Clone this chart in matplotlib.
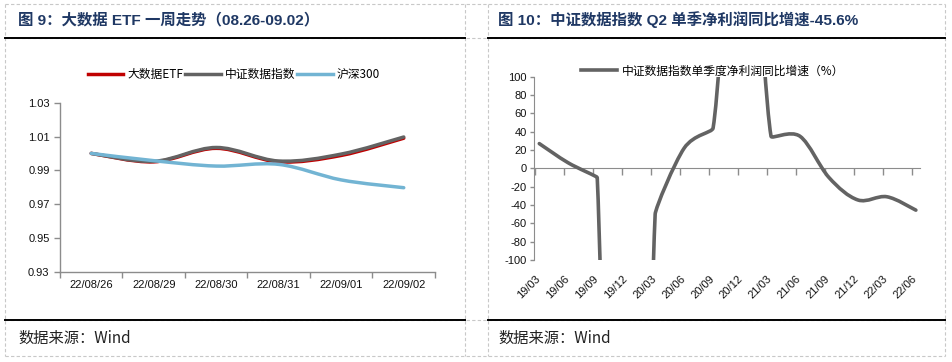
import matplotlib
matplotlib.use("Agg")
import matplotlib.pyplot as plt
import numpy as np
from matplotlib.path import Path
from matplotlib.patches import PathPatch
from matplotlib.lines import Line2D

# ---------------- data ----------------
days = ["22/08/26", "22/08/29", "22/08/30", "22/08/31", "22/09/01", "22/09/02"]
etf = [1.000, 0.995, 1.003, 0.995, 0.9988, 1.009]
index_ = [1.000, 0.9953, 1.0035, 0.9955, 0.9996, 1.0097]
hs300 = [1.000, 0.9957, 0.9925, 0.9935, 0.9843, 0.9797]
left_names = ["大数据ETF", "中证数据指数", "沪深300"]
left_yticks = [0.93, 0.95, 0.97, 0.99, 1.01, 1.03]

quarters = ["19/03", "19/06", "19/09", "19/12", "20/03", "20/06", "20/09",
            "20/12", "21/03", "21/06", "21/09", "21/12", "22/03", "22/06"]
growth = [27, 6, -10, -1400, -50, 22, 44, 420, 35, 35, -10, -34.5, -31, -45.6]
right_name = "中证数据指数单季度净利润同比增速（%）"
right_yticks = [-100, -80, -60, -40, -20, 0, 20, 40, 60, 80, 100]

title_l = "图 9：大数据 ETF 一周走势（08.26-09.02）"
title_r = "图 10：中证数据指数 Q2 单季净利润同比增速-45.6%"
source = "数据来源：Wind"

# ---------------- style ----------------
RED = "#c00000"
GRAY = "#636363"
BLUE = "#72b4d3"
AX = "#8c8c8c"
NAVY = "#1f3864"
LAT = ["Liberation Sans", "Noto Sans CJK SC"]
CJK = ["Noto Sans CJK SC", "Liberation Sans"]

W, H = 953, 362
fig = plt.figure(figsize=(W / 100, H / 100), dpi=100)


def fx(px):
    return px / W


def fy(py):
    return 1 - py / H


def ctrl_len(chord, seg):
    """Control-arm length: chord/6, damped when it exceeds half the segment."""
    a, h = chord / 6.0, seg / 2.0
    return a if a <= h else h * h / a


def smooth_patch(ax, xs, ys, color, lw, z):
    """Excel-like smoothed line: cubic Bezier built in display space."""
    data = np.column_stack([xs, ys]).astype(float)
    P = ax.transData.transform(data)
    n = len(P)
    verts = [P[0]]
    codes = [Path.MOVETO]
    for i in range(n - 1):
        p0 = P[i - 1] if i > 0 else P[i]
        p1, p2 = P[i], P[i + 1]
        p3 = P[i + 2] if i + 2 < n else P[i + 1]
        d12 = np.linalg.norm(p2 - p1)
        v02 = p2 - p0
        v13 = p3 - p1
        d02 = np.linalg.norm(v02) + 1e-9
        d13 = np.linalg.norm(v13) + 1e-9
        c1 = p1 + v02 / d02 * ctrl_len(d02, d12)
        c2 = p2 - v13 / d13 * ctrl_len(d13, d12)
        verts += [c1, c2, p2]
        codes += [Path.CURVE4] * 3
    verts = ax.transData.inverted().transform(np.array(verts))
    patch = PathPatch(Path(verts, codes), facecolor="none", edgecolor=color,
                      lw=lw, zorder=z, capstyle="round", joinstyle="round")
    ax.add_patch(patch)


# ---------------- frames ----------------
dash = dict(color="#c8c8c8", lw=0.8, ls=(0, (3, 2)), transform=fig.transFigure)
for y in (4, 38, 320, 356):
    fig.add_artist(Line2D([fx(5), fx(945)], [fy(y), fy(y)], **dash))
for x in (5, 465, 488, 945):
    fig.add_artist(Line2D([fx(x), fx(x)], [fy(4), fy(356)], **dash))
for (a, b) in ((5, 465), (488, 945)):
    for y in (38, 320):
        fig.add_artist(Line2D([fx(a), fx(b)], [fy(y), fy(y)], color="black",
                              lw=1.4, transform=fig.transFigure))

fig.text(fx(18), fy(20), title_l, fontsize=11.1, fontweight="bold", color=NAVY,
         family=LAT, va="center", ha="left")
fig.text(fx(498), fy(20), title_r, fontsize=11.1, fontweight="bold", color=NAVY,
         family=LAT, va="center", ha="left")
fig.text(fx(18), fy(338), source, fontsize=11, color="#222222", family=CJK,
         va="center", ha="left")
fig.text(fx(498), fy(338), source, fontsize=11, color="#222222", family=CJK,
         va="center", ha="left")

# ---------------- left chart ----------------
axl = fig.add_axes([fx(60), fy(271.7), fx(375), (271.7 - 102.7) / H])
xs = np.arange(len(days))
axl.set_xlim(-0.5, len(days) - 0.5)
axl.set_ylim(left_yticks[0], left_yticks[-1])
smooth_patch(axl, xs, etf, RED, 2.5, 3)
smooth_patch(axl, xs, index_, GRAY, 2.5, 4)
smooth_patch(axl, xs, hs300, BLUE, 2.5, 5)
axl.set_yticks(left_yticks)
axl.set_yticklabels([f"{v:.2f}" for v in left_yticks])
axl.set_xticks(np.arange(len(days) + 1) - 0.5)
axl.set_xticklabels([])
axl.set_xticks(xs, minor=True)
axl.set_xticklabels(days, minor=True)
for s in ("top", "right"):
    axl.spines[s].set_visible(False)
for s in ("left", "bottom"):
    axl.spines[s].set_color(AX)
    axl.spines[s].set_linewidth(1.0)
axl.tick_params(axis="both", which="major", color=AX, length=4, width=1.0,
                labelsize=8, labelcolor="#111111")
axl.tick_params(axis="x", which="minor", length=0, pad=6, labelsize=8,
                labelcolor="#111111")
for t in axl.get_xticklabels(minor=True) + axl.get_yticklabels():
    t.set_family(LAT)
handles = [Line2D([], [], color=c, lw=2.5) for c in (RED, GRAY, BLUE)]
axl.legend(handles, left_names, loc="center", bbox_to_anchor=(0.464, 1.164),
           ncol=3, frameon=False, handlelength=3.0, handletextpad=0.35,
           columnspacing=0.15, prop={"family": CJK, "size": 8.5})

# ---------------- right chart ----------------
axr = fig.add_axes([fx(533.5), fy(260), fx(387), (260 - 76.7) / H])
qx = np.arange(len(quarters))
axr.set_xlim(-0.06, len(quarters) - 1 + 0.3)
axr.set_ylim(right_yticks[0], right_yticks[-1])
smooth_patch(axr, qx + 0.14, growth, GRAY, 2.6, 4)
axr.set_yticks(right_yticks)
axr.set_yticklabels([str(v) for v in right_yticks])
for s in ("top", "right"):
    axr.spines[s].set_visible(False)
axr.spines["left"].set_color(AX)
axr.spines["bottom"].set_color(AX)
axr.spines["bottom"].set_position(("data", 0))
axr.set_xticks(qx)
axr.tick_params(axis="x", labelbottom=False, color=AX, length=5, width=1.0,
                direction="out")
axr.tick_params(axis="y", color=AX, length=3, width=1.0, labelsize=8,
                labelcolor="#111111", pad=2)
for t in axr.get_yticklabels():
    t.set_family(LAT)
sec = axr.secondary_xaxis(0.0)
sec.set_xticks(qx)
sec.set_xticklabels(quarters, rotation=45, ha="right", rotation_mode="anchor",
                    family=LAT, fontsize=8, color="#111111")
sec.tick_params(length=0, pad=10)
sec.spines["bottom"].set_visible(False)
axr.legend([Line2D([], [], color=GRAY, lw=2.6)], [right_name], loc="center",
           bbox_to_anchor=(0.463, 1.031), frameon=False, handlelength=3.0,
           handletextpad=0.4, prop={"family": CJK, "size": 8.5})

fig.savefig("out.png", dpi=100)
